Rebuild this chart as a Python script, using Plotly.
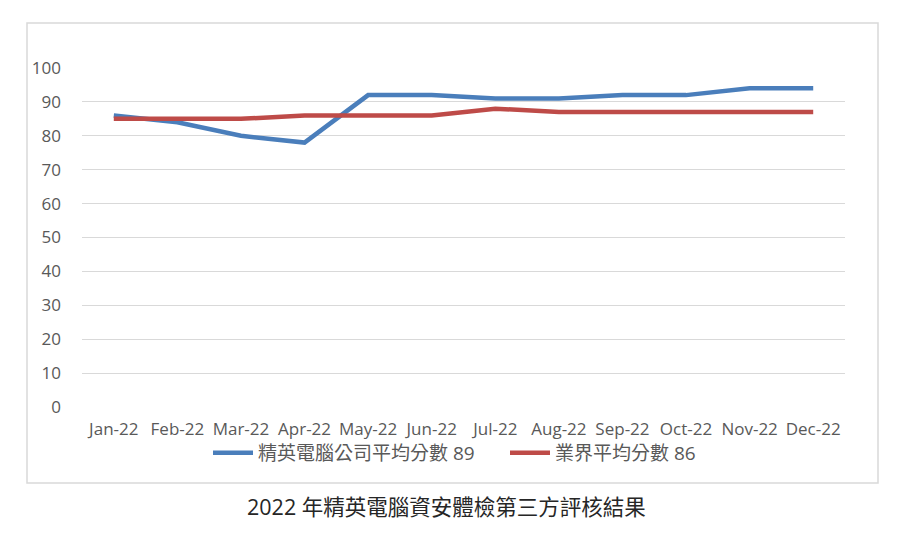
import plotly.graph_objects as go

months = ["Jan-22", "Feb-22", "Mar-22", "Apr-22", "May-22", "Jun-22",
          "Jul-22", "Aug-22", "Sep-22", "Oct-22", "Nov-22", "Dec-22"]
company_scores = [86, 84, 80, 78, 92, 92, 91, 91, 92, 92, 94, 94]
industry_scores = [85, 85, 85, 86, 86, 86, 88, 87, 87, 87, 87, 87]
company_name = "精英電腦公司平均分數 89"
industry_name = "業界平均分數 86"
chart_title = "2022 年精英電腦資安體檢第三方評核結果"
y_ticks = [0, 10, 20, 30, 40, 50, 60, 70, 80, 90, 100]

W, H = 908, 540
L, R, T, B = 82, 845, 68, 407  # plot area in px

def px_x(x):
    return (x - L) / (R - L)

def px_y(y):
    return (B - y) / (B - T)

fig = go.Figure()
fig.add_trace(go.Scatter(x=months, y=company_scores, mode="lines", name=company_name,
                         line=dict(color="#4A7EBB", width=4.5)))
fig.add_trace(go.Scatter(x=months, y=industry_scores, mode="lines", name=industry_name,
                         line=dict(color="#BE4B48", width=4.5)))

font_family = "Open Sans, Noto Sans CJK TC, sans-serif"
fig.update_layout(
    width=W, height=H,
    margin=dict(l=L, r=W - R, t=T, b=H - B, autoexpand=False),
    paper_bgcolor="white", plot_bgcolor="white",
    font=dict(family=font_family, color="#595959", size=17),
    showlegend=True,
    legend=dict(orientation="h", x=px_x(208), xanchor="left", y=px_y(453), yanchor="middle",
                font=dict(family=font_family, size=19, color="#595959"),
                itemwidth=40, entrywidth=242, entrywidthmode="pixels",
                tracegroupgap=0, bgcolor="rgba(0,0,0,0)"),
    xaxis=dict(type="category", range=[-0.5, 11.5], showgrid=False, zeroline=False,
               showline=False, ticks="", ticklabelstandoff=10,
               tickfont=dict(size=17, color="#595959")),
    yaxis=dict(range=[0, 100], tickvals=y_ticks, showgrid=True, gridcolor="#D9D9D9",
               gridwidth=1, zeroline=False, showline=False, ticks="",
               ticklabelstandoff=20, tickfont=dict(size=17, color="#595959")),
    shapes=[dict(type="rect", xref="paper", yref="paper",
                 x0=px_x(27), x1=px_x(878), y0=px_y(483), y1=px_y(23),
                 line=dict(color="#D9D9D9", width=1.5), fillcolor="rgba(0,0,0,0)", layer="below")],
    annotations=[dict(text=chart_title, xref="paper", yref="paper", x=px_x(446), y=px_y(506),
                      xanchor="center", yanchor="middle", showarrow=False,
                      font=dict(family=font_family, size=21.5, color="#262626"))],
)

fig.write_html("out.html", config={"displayModeBar": False},
               post_script="document.body.style.margin='0';")
